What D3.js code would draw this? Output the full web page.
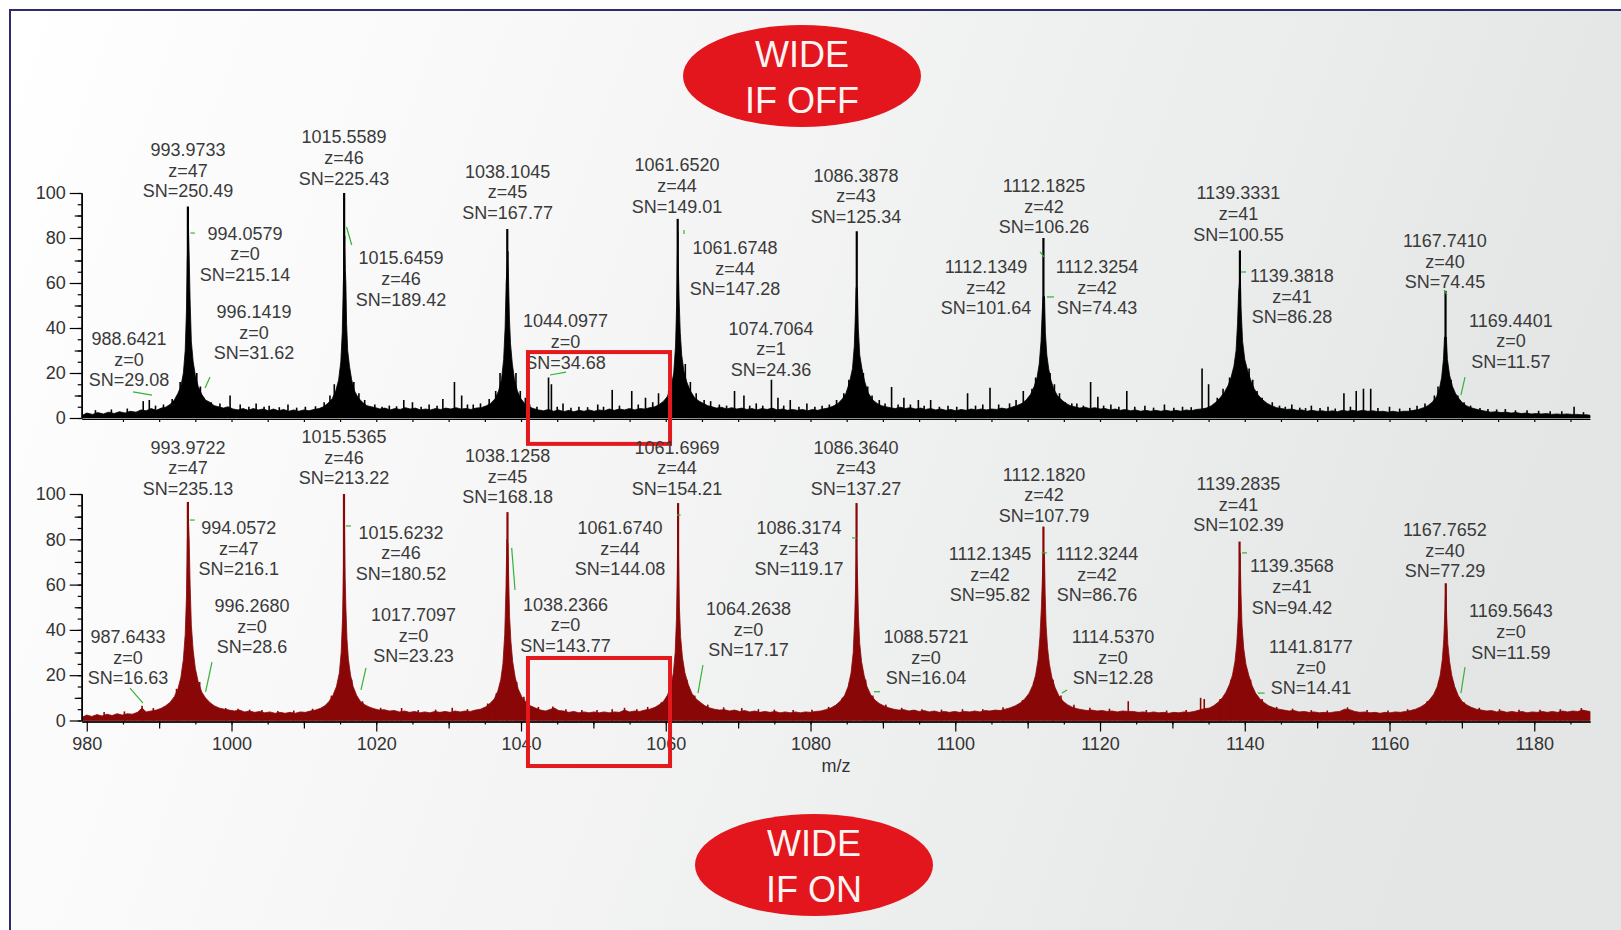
<!DOCTYPE html>
<html>
<head>
<meta charset="utf-8">
<script src="https://cdn.jsdelivr.net/npm/d3@7"></script>
<style>
  body { margin: 0; background: #ffffff; }
  text { font-family: 'Liberation Sans', Arial, sans-serif; }
</style>
</head>
<body>
<div id="graph"></div>
<script>
// ---- data (m/z, relative intensity %) ----

// outline of the WIDE IF OFF trace (top, black)
var offProfile = [
  [979.4,1.2],[980,2.2],[980.8,1.6],[981.5,2.4],[982.3,1.8],[983,2.6],[983.8,2],[984.5,2.8],[985.3,2.2],[986,3],[986.8,2.6],[987.5,3.6],[988.2,3.2],[988.9,4.2],[989.6,3.4],[990.3,4.4],[990.9,4.8],[991.5,6],[992.1,8],[992.6,11],[993,14],[993.35,20],[993.6,30],[993.78,48],[993.88,70],[994.06,84],[994.15,72],[994.28,52],[994.45,34],[994.7,25],[995,19],[995.4,14],[995.9,10.5],[996.4,8],[997,7],[997.6,5.5],[998.2,5],[998.9,4.4],[999.5,5],[1000.2,4],[1000.9,3.6],[1001.6,4.2],[1002.3,3.4],[1003,4.2],[1003.7,3.6],[1004.4,4],[1005.1,3.2],[1005.8,4],[1006.5,3.2],[1007.2,3.8],[1007.9,3],[1008.6,3.6],[1009.3,3],[1010,3.6],[1010.7,3.2],[1011.4,3.8],[1012.1,4.2],[1012.7,5],[1013.3,6.5],[1013.9,8.5],[1014.4,12],[1014.8,17],[1015.1,25],[1015.3,38],[1015.45,60],[1015.65,81],[1015.72,66],[1015.8,60],[1015.9,42],[1016.05,30],[1016.3,23],[1016.6,17],[1017,12],[1017.5,9],[1018.1,7],[1018.7,5.5],[1019.3,5],[1019.9,4.6],[1020.5,4],[1021.2,4.4],[1021.9,3.6],[1022.6,4.2],[1023.3,3.8],[1024,4.6],[1024.7,4],[1025.4,4.4],[1026.1,3.6],[1026.8,4],[1027.5,3.6],[1028.2,4.2],[1028.9,3.8],[1029.6,4.4],[1030.3,4],[1031,4.6],[1031.7,4],[1032.4,4.2],[1033.1,3.8],[1033.8,4.4],[1034.5,4.6],[1035.2,5.4],[1035.8,6.5],[1036.4,8.5],[1036.9,12],[1037.3,17],[1037.6,26],[1037.8,40],[1037.95,60],[1038.2,74],[1038.3,58],[1038.4,44],[1038.55,33],[1038.8,24],[1039.1,17],[1039.5,12],[1040,8.5],[1040.5,6.5],[1041.1,5],[1041.7,4.2],[1042.4,3.6],[1043.1,3.2],[1043.8,3.8],[1044.5,3],[1045.2,3.6],[1045.9,2.8],[1046.6,3.4],[1047.3,2.8],[1048,3.4],[1048.7,3],[1049.4,3.6],[1050.1,3],[1050.8,3.6],[1051.5,3.2],[1052.2,4],[1052.9,3.4],[1053.6,4],[1054.3,3.6],[1055,4.2],[1055.7,3.6],[1056.4,4.2],[1057.1,4],[1057.8,4.6],[1058.5,5],[1059.1,6],[1059.7,7.5],[1060.2,9.5],[1060.7,13],[1061.1,20],[1061.35,32],[1061.5,50],[1061.6,72],[1061.67,83],[1061.75,66],[1061.85,52],[1062,38],[1062.2,28],[1062.5,21],[1062.9,16],[1063.4,12],[1064,9],[1064.6,7.5],[1065.2,6.5],[1065.8,5.5],[1066.4,5],[1067,4.4],[1067.7,4.8],[1068.4,4],[1069.1,4.6],[1069.8,4],[1070.5,4.4],[1071.2,3.8],[1071.9,4.2],[1072.6,3.6],[1073.3,4.2],[1074,3.8],[1074.7,4.4],[1075.4,3.6],[1076.1,4],[1076.8,3.4],[1077.5,3.8],[1078.2,3.4],[1078.9,3.8],[1079.6,3.2],[1080.3,3.8],[1081,3.4],[1081.7,4],[1082.4,4.4],[1083.1,5.2],[1083.8,6.5],[1084.4,8.5],[1084.9,11],[1085.4,16],[1085.8,22],[1086.05,32],[1086.2,46],[1086.3,58],[1086.48,58],[1086.6,40],[1086.8,28],[1087.1,22],[1087.5,16],[1088,11],[1088.6,8],[1089.2,6.5],[1089.8,5.5],[1090.4,5],[1091,4.6],[1091.7,4.2],[1092.4,4.8],[1093.1,4.2],[1093.8,4.6],[1094.5,4],[1095.2,4.4],[1095.9,3.8],[1096.6,4.2],[1097.3,3.6],[1098,4],[1098.7,3.4],[1099.4,3.8],[1100.1,3.2],[1100.8,3.8],[1101.5,3.4],[1102.2,4],[1102.9,3.6],[1103.6,4],[1104.3,3.6],[1105,4],[1105.7,3.8],[1106.4,4.4],[1107.1,4],[1107.8,4.8],[1108.5,5.5],[1109.2,6.5],[1109.8,8],[1110.4,10.5],[1110.9,14],[1111.3,18],[1111.6,24],[1111.85,34],[1112,46],[1112.13,54],[1112.33,54],[1112.45,38],[1112.65,28],[1112.9,22],[1113.2,17],[1113.6,13],[1114.1,10],[1114.7,8],[1115.3,6.5],[1115.9,5.5],[1116.5,5],[1117.2,4.4],[1117.9,4.8],[1118.6,4.2],[1119.3,4.6],[1120,4],[1120.7,4.2],[1121.4,3.6],[1122.1,4],[1122.8,3.4],[1123.5,3.8],[1124.2,3.2],[1124.9,3.6],[1125.6,3],[1126.3,3.4],[1127,3],[1127.7,3.4],[1128.4,3],[1129.1,3.4],[1129.8,3],[1130.5,3.4],[1131.2,3],[1131.9,3.6],[1132.6,3.2],[1133.3,3.8],[1134,4],[1134.7,4.4],[1135.4,5.5],[1136,7],[1136.6,9],[1137.2,11.5],[1137.7,14.5],[1138.1,18],[1138.5,23],[1138.8,30],[1139,42],[1139.15,56],[1139.38,64],[1139.5,48],[1139.7,34],[1140,26],[1140.4,21],[1140.8,17],[1141.3,13],[1141.9,10],[1142.5,8],[1143.1,6.5],[1143.7,5.5],[1144.4,4.6],[1145.1,4.2],[1145.8,3.8],[1146.5,4],[1147.2,3.4],[1147.9,3.6],[1148.6,3],[1149.3,3.4],[1150,3],[1150.7,3.2],[1151.4,2.8],[1152.1,3.2],[1152.8,2.8],[1153.5,3.4],[1154.2,3],[1154.9,3.4],[1155.6,3],[1156.3,3.4],[1157,3],[1157.7,3.2],[1158.4,2.8],[1159.1,3],[1159.8,2.6],[1160.5,3],[1161.2,2.6],[1161.9,3],[1162.6,3],[1163.3,3.4],[1164,3.8],[1164.7,4.6],[1165.3,5.5],[1165.9,7],[1166.5,9.5],[1166.9,13],[1167.2,18],[1167.45,26],[1167.6,36],[1167.85,36],[1168,26],[1168.3,19],[1168.7,14],[1169.1,11],[1169.5,9],[1170,7],[1170.6,5.5],[1171.2,4.6],[1171.9,4],[1172.6,3.4],[1173.3,3],[1174,2.6],[1174.7,2.8],[1175.4,2.4],[1176.1,2.6],[1176.8,2.2],[1177.5,2.4],[1178.2,2],[1178.9,2.2],[1179.6,1.8],[1180.3,2],[1181,1.8],[1181.7,2],[1182.4,1.6],[1183.1,1.8],[1183.8,1.6],[1184.5,1.8],[1185.2,1.6],[1185.9,1.6],[1186.6,1.4],[1187.3,1.4],[1187.7,1.2]
];

// needles of the WIDE IF OFF trace: apexes, then the small spikes
var offApex = [ [993.97,94],[1015.56,100],[1038.10,84],[1061.65,88.5],[1086.39,83],[1112.18,80],[1139.33,74.5],[1167.74,56.5] ];
var offSpikes = [
  [981.2,3.5],[983.4,3.8],[985.6,4.2],[987.8,7.5],[988.64,8],[989.5,5.5],[990.6,6],[991.8,8.5],[992.9,16],[995.2,20],[995.7,14],
  [996.14,9],[997.2,7],[998.4,6.5],[999.8,10],[1001.2,6],[1002.4,5],[1003.4,6.5],[1004.5,5],[1005.2,5.5],[1006.6,4.8],[1007.8,6],[1009,4.6],[1010.2,5],[1011.6,5.2],
  [1012.8,7],[1013.6,10],[1014.2,15],[1016.9,16],[1017.6,11],[1018.4,8],[1019.8,6],[1020.8,5],[1021.8,5.5],[1022.8,5.2],[1023.8,8],[1025,7],[1026.2,5],[1027.3,6],[1028.4,5.5],[1029.2,8.5],[1030.8,16],[1031.8,10],[1032.6,6],[1033.4,6],[1034.4,6.5],
  [1035.6,8.5],[1036.5,12],[1037.1,20],[1039.3,20],[1039.9,12],[1040.6,9],[1041.2,6],[1042.2,5],[1043.8,18],[1044.2,15],[1045,5],[1045.8,6.5],[1046.9,4.6],[1048,5],[1049.2,4.8],[1050.6,6],[1051.4,5],[1052.6,12.5],[1053.6,5.5],[1055.3,12],[1056.2,6],[1057.2,9],[1058.2,7],[1059,11],
  [1060.4,12],[1062.7,24],[1063.4,16],[1064.2,11],[1065.3,8],[1066.2,7.5],[1067.4,6],[1068.4,5.5],[1069.5,12],[1070.8,10],[1071.6,5.5],[1072.5,6.5],[1073.4,5.5],[1074.6,17],[1075.5,9],[1076.3,5.5],[1077.2,8],[1078.4,5],[1079.5,6.5],[1080.6,5],[1081.6,5.5],[1082.6,6],
  [1083.6,8],[1084.6,11],[1085.3,17],[1087.3,20],[1087.9,14],[1088.5,10],[1089.5,8],[1090.3,6.5],[1091.2,13.8],[1092.1,6],[1092.9,9],[1093.8,6],[1094.9,8],[1095.7,5.5],[1096.6,8],[1097.8,5],[1099,5.5],[1100.2,5],[1101.7,11],[1102.8,5.5],[1103.8,6],[1104.8,13.5],[1106,6],[1107.5,6.5],[1108.4,8],[1109.4,12],
  [1110.6,13],[1111.1,18],[1113.1,20],[1113.7,15],[1114.4,11],[1115.2,7],[1116.1,6.5],[1116.8,6.5],[1117.7,5.5],[1118.7,16],[1119.7,9.5],[1120.5,5.5],[1121.5,6],[1122.6,5],[1123.7,12],[1124.8,5],[1126.2,5.5],[1127.4,4.6],[1128.9,6],[1130.2,4.6],[1131.4,5],[1132.6,4.8],
  [1134.1,22],[1135,15],[1136.2,9],[1137,13],[1137.9,18],[1140.6,22],[1141.1,17],[1141.7,12],[1142.4,9],[1143.8,7],[1144.8,5.5],[1145.6,5],[1146.5,6],[1147.6,4.6],[1148.4,4.4],[1149.2,5.5],[1150.4,4.4],[1151.5,5],[1152.5,4.2],[1153.7,11],[1154.6,5],[1155.4,12],[1156.4,13],[1157.4,13],[1158.4,4.5],[1160,5],[1161.4,4.2],[1162.8,4.5],[1163.8,5.5],[1164.9,6.5],
  [1166.2,10],[1166.7,14],[1168.5,17],[1169.44,10],[1170.3,7],[1171.2,5.5],[1172.5,4.5],[1173.6,4],[1174.8,3.8],[1176,4],[1177.4,3.4],[1179,3.5],[1180.6,3.2],[1182.2,3],[1183.8,3],[1185.5,5],[1186.8,2.6]
];

// outline of the WIDE IF ON trace (bottom, dark red)
var onProfile = [
  [979.4,1.5],[980,2.4],[980.7,1.8],[981.4,2.6],[982.1,2],[982.8,2.8],[983.5,2.2],[984.2,3],[984.9,2.4],[985.6,3],[986.3,2.8],[987,3.6],[987.64,5.5],[988.2,3.8],[988.9,4.2],[989.6,4.6],[990.3,5.4],[990.9,6.5],[991.5,8],[992.1,10.5],[992.6,14],[993,19],[993.35,27],[993.6,38],[993.78,55],[993.9,80],[994.06,88],[994.15,80],[994.28,60],[994.45,42],[994.7,31],[995,23],[995.4,17],[995.9,12.5],[996.4,10],[997,8],[997.6,6.5],[998.3,5.5],[999,5],[999.7,4.6],[1000.4,4.2],[1001.1,4.6],[1001.8,3.8],[1002.5,4.2],[1003.2,3.6],[1003.9,4],[1004.6,3.4],[1005.3,3.8],[1006,3.2],[1006.7,3.6],[1007.4,3.2],[1008.1,3.6],[1008.8,3.2],[1009.5,3.8],[1010.2,3.6],[1010.9,4.2],[1011.6,4.6],[1012.3,5.4],[1012.9,6.5],[1013.5,8.5],[1014,11],[1014.5,15],[1014.9,21],[1015.15,30],[1015.35,46],[1015.48,70],[1015.62,86],[1015.7,63],[1015.8,50],[1015.95,36],[1016.15,27],[1016.45,20],[1016.8,15],[1017.3,11],[1017.8,8.5],[1018.4,7],[1019,6],[1019.7,5.2],[1020.4,4.6],[1021.1,4.8],[1021.8,4.2],[1022.5,4.4],[1023.2,3.8],[1023.9,4.2],[1024.6,3.6],[1025.3,4],[1026,3.4],[1026.7,3.8],[1027.4,3.4],[1028.1,4],[1028.8,3.6],[1029.5,4],[1030.2,3.6],[1030.9,4.2],[1031.6,3.8],[1032.3,4.2],[1033,4],[1033.7,4.6],[1034.4,5],[1035.1,6],[1035.7,7.5],[1036.3,9.5],[1036.8,13],[1037.2,18],[1037.5,25],[1037.75,38],[1037.92,58],[1038.05,80],[1038.2,78],[1038.3,62],[1038.42,46],[1038.6,35],[1038.85,26],[1039.2,19],[1039.6,14],[1040.1,10.5],[1040.7,8],[1041.3,6.5],[1042,5.5],[1042.7,4.6],[1043.4,4.2],[1044.1,5],[1044.6,5.5],[1045.2,4.4],[1045.9,4.2],[1046.6,3.6],[1047.3,4],[1048,3.4],[1048.7,3.8],[1049.4,3.4],[1050.1,3.8],[1050.8,3.4],[1051.5,3.8],[1052.2,3.4],[1052.9,3.8],[1053.6,3.6],[1054.3,4.6],[1055,3.8],[1055.7,4.2],[1056.4,4],[1057.1,4.6],[1057.8,5],[1058.5,5.8],[1059.1,7],[1059.7,8.5],[1060.2,11],[1060.7,15],[1061.05,21],[1061.3,30],[1061.48,45],[1061.6,68],[1061.67,90],[1061.78,70],[1061.88,50],[1062.05,37],[1062.3,28],[1062.65,21],[1063.1,16],[1063.6,12],[1064.2,9.5],[1064.8,8],[1065.4,6.5],[1066,5.6],[1066.7,5],[1067.4,4.6],[1068.1,4.8],[1068.8,4.2],[1069.5,4.6],[1070.2,4],[1070.9,4.4],[1071.6,3.8],[1072.3,4.2],[1073,3.6],[1073.7,4],[1074.4,3.6],[1075.1,4],[1075.8,3.4],[1076.5,3.8],[1077.2,3.4],[1077.9,3.8],[1078.6,3.4],[1079.3,3.8],[1080,3.6],[1080.7,4],[1081.4,4.2],[1082.1,4.8],[1082.8,5.5],[1083.5,6.8],[1084.1,8.5],[1084.7,11],[1085.2,15],[1085.6,21],[1085.9,30],[1086.1,45],[1086.25,62],[1086.32,80],[1086.5,62],[1086.62,46],[1086.8,34],[1087.05,26],[1087.4,20],[1087.8,15],[1088.3,11.5],[1088.9,9],[1089.5,7.5],[1090.1,6.5],[1090.8,5.6],[1091.5,5],[1092.2,4.6],[1092.9,4.8],[1093.6,4.2],[1094.3,4.6],[1095,4],[1095.7,4.4],[1096.4,3.8],[1097.1,4.2],[1097.8,3.6],[1098.5,4],[1099.2,3.6],[1099.9,4],[1100.6,3.6],[1101.3,4],[1102,3.8],[1102.7,4.2],[1103.4,3.8],[1104.1,4.4],[1104.8,4.2],[1105.5,4.6],[1106.2,4.4],[1106.9,5],[1107.6,5.6],[1108.3,6.5],[1109,7.8],[1109.6,9.5],[1110.2,12],[1110.7,15.5],[1111.1,20],[1111.45,27],[1111.7,37],[1111.9,50],[1112.05,64],[1112.13,74],[1112.32,74],[1112.42,56],[1112.55,42],[1112.75,32],[1113,25],[1113.35,19],[1113.8,14.5],[1114.3,11],[1114.9,8.5],[1115.5,7],[1116.1,6],[1116.8,5.2],[1117.5,4.8],[1118.2,4.4],[1118.9,4.6],[1119.6,4.2],[1120.3,4.4],[1121,4],[1121.7,4.2],[1122.4,3.8],[1123.1,4.2],[1123.9,4],[1124.6,4],[1125.3,3.6],[1126,3.8],[1126.7,3.4],[1127.4,3.8],[1128.1,3.4],[1128.8,3.6],[1129.5,3.2],[1130.2,3.6],[1130.9,3.4],[1131.6,3.8],[1132.3,3.6],[1133,4],[1133.7,4.6],[1134.4,5.2],[1135.1,5.5],[1135.7,6.5],[1136.3,8],[1136.9,10],[1137.4,12.5],[1137.9,16],[1138.3,20],[1138.65,26],[1138.9,34],[1139.1,46],[1139.22,62],[1139.36,74],[1139.48,56],[1139.62,42],[1139.85,32],[1140.15,25],[1140.55,20],[1141,15.5],[1141.5,12],[1142.1,9.5],[1142.7,7.8],[1143.3,6.5],[1144,5.6],[1144.7,5],[1145.4,4.6],[1146.1,4.2],[1146.8,4.4],[1147.5,3.8],[1148.2,4],[1148.9,3.6],[1149.6,3.8],[1150.3,3.4],[1151,3.6],[1151.7,3.4],[1152.4,3.8],[1153.1,4],[1153.8,5],[1154.5,4.8],[1155.2,4],[1155.9,3.6],[1156.6,3.8],[1157.3,3.4],[1158,3.6],[1158.7,3.2],[1159.4,3.6],[1160.1,3.4],[1160.8,3.8],[1161.5,3.6],[1162.2,4],[1162.9,4.4],[1163.6,5],[1164.3,6],[1164.9,7.2],[1165.5,9],[1166.1,11.5],[1166.6,15],[1167,20],[1167.3,27],[1167.5,36],[1167.65,48],[1167.77,60],[1167.9,46],[1168.05,34],[1168.3,26],[1168.6,20],[1169,15],[1169.5,11],[1170,8.5],[1170.6,7],[1171.3,5.8],[1172,5],[1172.7,4.6],[1173.4,4.2],[1174.1,4.4],[1174.8,3.8],[1175.5,4.2],[1176.2,3.6],[1176.9,4],[1177.6,3.6],[1178.3,4],[1179,3.4],[1179.7,3.8],[1180.4,3.6],[1181.1,4],[1181.8,3.6],[1182.5,4],[1183.2,3.6],[1183.9,4.2],[1184.6,3.8],[1185.3,4.2],[1186,4],[1186.7,4.6],[1187.3,4.2],[1187.7,4]
];

var onApex = [ [993.97,96.5],[1015.54,100],[1038.13,92],[1061.70,96],[1086.36,96],[1112.18,85.6],[1139.28,79],[1167.77,60.6] ];
var onSpikes = [
  [982.4,3.8],[985.2,4],[987.64,6.5],[989.2,5.5],[992.4,14],[995.6,17],[999.2,5.5],[1000.9,5.2],[1002.5,4.8],[1004.2,4.6],[1006.4,4.2],[1008.6,4.4],[1011.2,5.2],
  [1013.8,11],[1016.6,18],[1018.1,8.5],[1020.6,5.6],[1023.5,5.5],[1025.8,4.6],[1028.2,4.8],[1030.5,5.6],[1032.6,5],[1035.4,7.5],[1036.6,12],[1039.4,17],[1040.4,10.5],
  [1042.4,6],[1044.4,6.2],[1046.2,5],[1048.4,4.6],[1050.5,4.6],[1052.6,5],[1054.3,5.6],[1056,5],[1057.5,6],[1059.4,8],[1060.9,17],[1062.9,18],[1064,11],[1065.8,7],
  [1068,5.8],[1070.5,5.5],[1072.8,5],[1075,4.8],[1077.6,4.6],[1080.2,4.8],[1082.5,6],[1084.4,10],[1085.4,17],[1087.6,18],[1088.6,11],[1090.4,7],[1092.6,5.6],[1095.4,5],[1098.1,4.8],[1101,5],[1103.8,5],
  [1106.6,5.8],[1109.3,9],[1110.9,17],[1113.5,18],[1114.6,11],[1116.4,7],[1118.6,5.6],[1121.3,5.2],[1123.9,8.5],[1126.4,4.6],[1129.2,4.4],[1131.9,4.6],[1133.9,10],[1134.4,9.5],
  [1136.6,9.5],[1138.1,18],[1140.8,18],[1142.4,9.5],[1144.4,6],[1146.6,5.2],[1149.2,4.6],[1151.4,4.4],[1154.2,5.8],[1156.9,4.6],[1159.8,4.4],[1162.5,5],[1165.2,8.5],[1166.8,17],[1168.8,17],[1170.3,8],
  [1172.4,5.6],[1175.2,5],[1177.9,4.8],[1180.8,4.8],[1183.6,5],[1186.5,5.5]
];

// peak annotations: m/z, charge, signal-to-noise
var offLabelMz = ['988.6421','993.9733','994.0579','996.1419','1015.5589','1015.6459','1038.1045','1044.0977','1061.6520','1061.6748',
                  '1074.7064','1086.3878','1112.1825','1112.1349','1112.3254','1139.3331','1139.3818','1167.7410','1169.4401'];
var offLabelZ  = [0, 47, 0, 0, 46, 46, 45, 0, 44, 44, 1, 43, 42, 42, 42, 41, 41, 40, 0];
var offLabelSN = ['29.08','250.49','215.14','31.62','225.43','189.42','167.77','34.68','149.01','147.28',
                  '24.36','125.34','106.26','101.64','74.43','100.55','86.28','74.45','11.57'];

var onLabelMz = ['987.6433','993.9722','994.0572','996.2680','1015.5365','1015.6232','1017.7097','1038.1258','1038.2366','1061.6969',
                 '1061.6740','1064.2638','1086.3640','1086.3174','1088.5721','1112.1820','1112.1345','1112.3244','1114.5370','1139.2835',
                 '1139.3568','1141.8177','1167.7652','1169.5643'];
var onLabelZ  = [0, 47, 47, 0, 46, 46, 0, 45, 0, 44, 44, 0, 43, 43, 0, 42, 42, 42, 0, 41, 41, 0, 40, 0];
var onLabelSN = ['16.63','235.13','216.1','28.6','213.22','180.52','23.23','168.18','143.77','154.21',
                 '144.08','17.17','137.27','119.17','16.04','107.79','95.82','86.76','12.28','102.39',
                 '94.42','14.41','77.29','11.59'];

var xTicks = [980, 1000, 1020, 1040, 1060, 1080, 1100, 1120, 1140, 1160, 1180];
var yTicks = [0, 20, 40, 60, 80, 100];

// ---- layout ----
var width  = 1621;
var height = 930;

// label anchors (centre m/z, intensity of first line) and leader lines, in data units
var offLabelAt = [ [985.84,35.1],[993.99,119.1],[1001.87,82],[1003.11,47.1],[1015.55,124.7],[1023.42,70.9],[1038.15,109.5],[1046.15,42.9],
                   [1061.55,112.3],[1069.57,75.6],[1074.54,39.7],[1086.28,107.7],[1112.26,103.1],[1104.25,67.2],[1119.58,67.2],
                   [1139.13,99.9],[1146.52,63.1],[1167.66,78.7],[1176.78,43.3] ];
var onLabelAt  = [ [985.70,36.9],[993.99,120.5],[1001.0,85],[1002.83,50.6],[1015.54,125.2],[1023.42,83],[1025.14,46.6],[1038.15,116.8],
                   [1046.15,51.1],[1061.55,120.5],[1053.68,85],[1071.43,49.2],[1086.28,120.5],[1078.41,85],[1095.96,36.9],
                   [1112.26,108.6],[1104.8,73.5],[1119.58,73.5],[1121.79,36.9],[1139.13,104.4],[1146.52,68],[1149.15,32.5],
                   [1167.66,84.1],[1176.78,48.3] ];
var offLeaders = [ [986.39,11.6,989.01,10.2],[994.33,82.2,994.93,82.2],[997.03,18.2,996.34,13.3],[1015.89,84.9,1016.61,76.9],
                   [1044.0,19.1,1046.22,20.4],[1062.52,83.6,1062.52,81.8],[1111.71,73.8,1112.26,71.6],[1112.67,53.8,1113.64,53.8],
                   [1139.48,64.9,1140.17,64.9],[1167.53,56.9,1167.94,54.7],[1170.43,18.2,1169.87,10.2] ];
var onLeaders  = [ [985.97,14.3,987.77,7.7],[994.21,88.5,994.93,88.5],[997.3,25.8,996.42,12.6],[1015.82,85.9,1016.51,85.9],
                   [1018.58,23.2,1017.89,13.5],[1038.71,76.2,1039.17,57.6],[1061.55,90.7,1062.05,90.7],[1065.14,24.5,1064.45,12.1],
                   [1085.73,80.6,1086.35,80.6],[1088.77,12.7,1089.6,12.7],[1111.94,74,1112.66,74],[1114.75,12.1,1115.44,13.5],
                   [1139.62,74,1140.31,74],[1141.79,12.1,1142.74,12.1],[1170.43,23.6,1169.87,12.1] ];

// highlight boxes: m/z from, m/z to, intensity bottom, intensity top
var offBox = [1040.96, 1060.59, -11.5, 29.3];
var onBox  = [1040.96, 1060.59, -20.1, 27.6];

var svg = d3.select('#graph').append('svg')
            .attr('width', width)
            .attr('height', height);

// background panel with its soft grey gradient
var grad = svg.append('defs').append('linearGradient')
              .attr('id', 'bg')
              .attr('x1', 0).attr('y1', 0).attr('x2', 1).attr('y2', 0.2);
grad.append('stop').attr('offset', '0%').attr('stop-color', '#ffffff');
grad.append('stop').attr('offset', '40%').attr('stop-color', '#f6f6f6');
grad.append('stop').attr('offset', '100%').attr('stop-color', '#e4e6e6');

svg.append('rect')
   .attr('x', 10).attr('y', 10)
   .attr('width', width).attr('height', height)
   .attr('fill', 'url(#bg)');

svg.append('path')
   .attr('d', 'M10,' + height + 'V10H' + width)
   .attr('fill', 'none')
   .attr('stroke', '#2c2c6c')
   .attr('stroke-width', 2);

var xScale = d3.scaleLinear()
               .domain([979.3, 1187.7])
               .range([81.7, 1590]);

var panels = [
    { yScale: d3.scaleLinear().domain([0, 100]).range([418, 193]),
      profile: offProfile, apex: offApex, spikes: offSpikes, colour: '#000000',
      labelMz: offLabelMz, labelZ: offLabelZ, labelSN: offLabelSN, labelAt: offLabelAt,
      leaders: offLeaders, box: offBox, xLabels: false },
    { yScale: d3.scaleLinear().domain([0, 100]).range([720.5, 494]),
      profile: onProfile, apex: onApex, spikes: onSpikes, colour: '#8a0707',
      labelMz: onLabelMz, labelZ: onLabelZ, labelSN: onLabelSN, labelAt: onLabelAt,
      leaders: onLeaders, box: onBox, xLabels: true }
];

panels.forEach(function (p)
{
    var y = p.yScale;
    var g = svg.append('g');

    // the trace
    var area = d3.area()
                 .x(function (d) { return xScale(d[0]); })
                 .y0(y(0))
                 .y1(function (d) { return y(d[1]); });

    g.append('path')
     .datum(p.profile)
     .attr('d', area)
     .attr('fill', p.colour)
     .attr('stroke', p.colour)
     .attr('stroke-width', 0.8);

    g.selectAll('line.spike')
     .data(p.spikes)
     .enter().append('line')
     .attr('class', 'spike')
     .attr('x1', function (d) { return xScale(d[0]); })
     .attr('x2', function (d) { return xScale(d[0]); })
     .attr('y1', y(0))
     .attr('y2', function (d) { return y(d[1]); })
     .attr('stroke', p.colour)
     .attr('stroke-width', 1.6);

    g.selectAll('line.apex')
     .data(p.apex)
     .enter().append('line')
     .attr('class', 'apex')
     .attr('x1', function (d) { return xScale(d[0]); })
     .attr('x2', function (d) { return xScale(d[0]); })
     .attr('y1', y(0))
     .attr('y2', function (d) { return y(d[1]); })
     .attr('stroke', p.colour)
     .attr('stroke-width', 2.2);

    // y axis: labelled every 20, ticks every 10 and 5
    g.append('g')
     .attr('transform', 'translate(' + xScale.range()[0] + ',0)')
     .call(d3.axisLeft(y).tickValues(yTicks).tickSize(12).tickSizeOuter(0).tickPadding(4));
    g.append('g')
     .attr('transform', 'translate(' + xScale.range()[0] + ',0)')
     .call(d3.axisLeft(y).tickValues(d3.range(0, 101, 5)).tickSize(4).tickSizeOuter(0).tickFormat(''));
    g.append('g')
     .attr('transform', 'translate(' + xScale.range()[0] + ',0)')
     .call(d3.axisLeft(y).tickValues(d3.range(10, 100, 20)).tickSize(7).tickSizeOuter(0).tickFormat(''));

    // x axis
    var x0 = y(0) + 1;
    g.append('g')
     .attr('transform', 'translate(0,' + x0 + ')')
     .call(d3.axisBottom(xScale).tickValues(d3.range(985, 1187, 5)).tickSize(3).tickSizeOuter(0).tickFormat(''));
    if (p.xLabels)
    {
        g.append('g')
         .attr('transform', 'translate(0,' + x0 + ')')
         .call(d3.axisBottom(xScale).tickValues(xTicks).tickSize(10).tickSizeOuter(0).tickPadding(6)
                 .tickFormat(d3.format('d')));
        g.append('g')
         .attr('transform', 'translate(0,' + x0 + ')')
         .call(d3.axisBottom(xScale).tickValues(d3.range(990, 1187, 20)).tickSize(7).tickSizeOuter(0).tickFormat(''));
    }

    g.selectAll('.tick text')
     .attr('font-family', "'Liberation Sans', Arial, sans-serif")
     .attr('font-size', '18px')
     .attr('fill', '#333333');
    g.selectAll('.domain, .tick line')
     .attr('stroke', '#000000')
     .attr('stroke-width', 1.2);

    // peak annotations
    var labels = g.selectAll('text.peak')
                  .data(p.labelMz)
                  .enter().append('text')
                  .attr('class', 'peak')
                  .attr('text-anchor', 'middle')
                  .attr('font-size', '18px')
                  .attr('fill', '#3a3a3a');

    labels.each(function (d, i)
    {
        var t  = d3.select(this);
        var cx = xScale(p.labelAt[i][0]);
        var cy = y(p.labelAt[i][1]) + 6;
        var lines = [ d, 'z=' + p.labelZ[i], 'SN=' + p.labelSN[i] ];
        lines.forEach(function (s, k)
        {
            t.append('tspan').attr('x', cx).attr('y', cy + k * 20.7).text(s);
        });
    });

    g.selectAll('line.leader')
     .data(p.leaders)
     .enter().append('line')
     .attr('class', 'leader')
     .attr('x1', function (d) { return xScale(d[0]); })
     .attr('y1', function (d) { return y(d[1]); })
     .attr('x2', function (d) { return xScale(d[2]); })
     .attr('y2', function (d) { return y(d[3]); })
     .attr('stroke', '#35b335')
     .attr('stroke-width', 1.2);

    // red highlight box
    g.append('rect')
     .attr('x', xScale(p.box[0]))
     .attr('y', y(p.box[3]))
     .attr('width', xScale(p.box[1]) - xScale(p.box[0]))
     .attr('height', y(p.box[2]) - y(p.box[3]))
     .attr('fill', 'none')
     .attr('stroke', '#e3191e')
     .attr('stroke-width', 4);
});

svg.append('text')
   .attr('x', 836).attr('y', 772)
   .attr('text-anchor', 'middle')
   .attr('font-size', '18px')
   .attr('fill', '#333333')
   .text('m/z');

// red ovals with the acquisition mode
var badges = [ { cx: 802, cy: 76,  lines: ['WIDE', 'IF OFF'] },
               { cx: 814, cy: 865, lines: ['WIDE', 'IF ON'] } ];

badges.forEach(function (b)
{
    svg.append('ellipse')
       .attr('cx', b.cx).attr('cy', b.cy)
       .attr('rx', 119).attr('ry', 51)
       .attr('fill', '#e2161c');

    b.lines.forEach(function (s, k)
    {
        svg.append('text')
           .attr('x', b.cx)
           .attr('y', b.cy - 22.5 + k * 46 + 13)
           .attr('text-anchor', 'middle')
           .attr('font-size', '36px')
           .attr('fill', '#fff4f4')
           .text(s);
    });
});
</script>
</body>
</html>
